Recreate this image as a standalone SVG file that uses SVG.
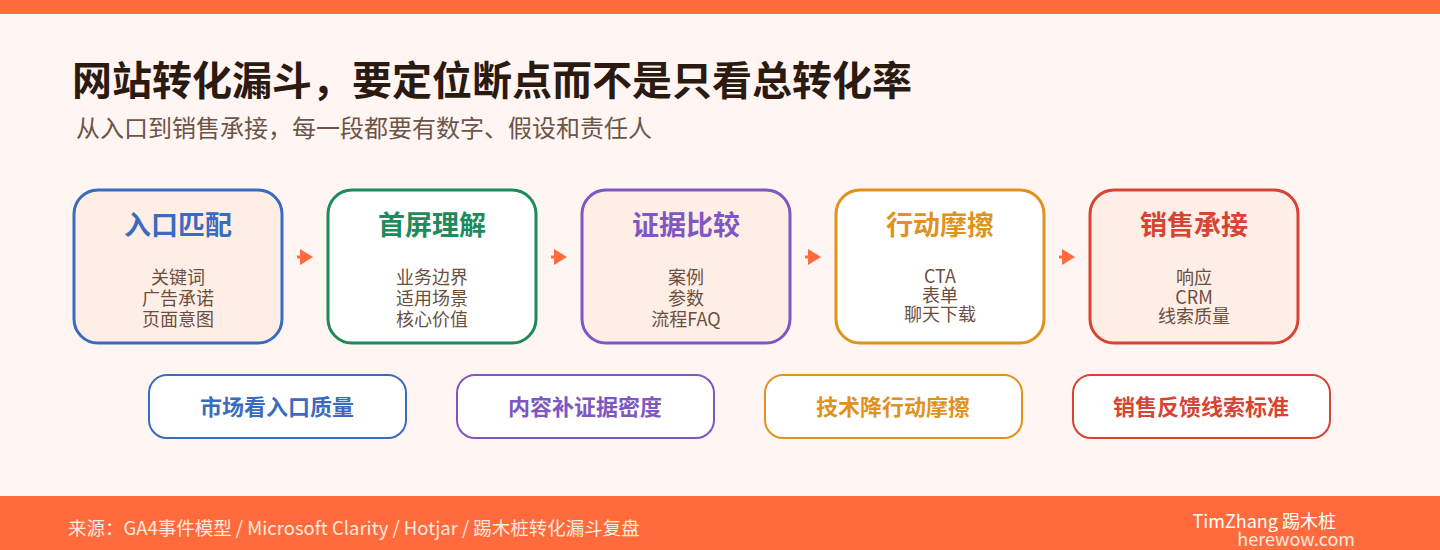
<svg xmlns="http://www.w3.org/2000/svg" width="1440" height="550" viewBox="0 0 1440 550">
<style>
text{font-family:"Noto Sans CJK SC","Noto Sans",sans-serif}
.title{font-size:40px;font-weight:700;fill:#2B1A10}
.sub{font-size:24px;fill:#6B5448}
.box{stroke-width:3}
.ht{font-size:27px;font-weight:700;text-anchor:middle}
.it{font-size:18px;fill:#6B4F40;text-anchor:middle}
.pill{stroke-width:2;fill:#FFFFFF}
.pt{font-size:22px;font-weight:700;text-anchor:middle}
.foot{font-size:18.5px;fill:#FFE8DE}
.conn{stroke:#FF6B3D;stroke-width:3}
</style>
<defs>
<marker id="ah" markerWidth="13" markerHeight="16" refX="0" refY="8" orient="auto" markerUnits="userSpaceOnUse">
<path d="M0,0 L13,8 L0,16 Z" fill="#FF6B3D"/>
</marker>
</defs>
<rect width="1440" height="550" fill="#FFF5F2"/>
<rect width="1440" height="14" fill="#FF6B3D"/>
<rect y="496" width="1440" height="54" fill="#FF6B3D"/>
<text class="title" x="72" y="95">网站转化漏斗，要定位断点而不是只看总转化率</text>
<text class="sub" x="76" y="137">从入口到销售承接，每一段都要有数字、假设和责任人</text>

<g id="connectors">
<line class="conn" x1="297" y1="257" x2="300" y2="257" marker-end="url(#ah)"/>
<line class="conn" x1="551" y1="257" x2="554" y2="257" marker-end="url(#ah)"/>
<line class="conn" x1="805" y1="257" x2="808" y2="257" marker-end="url(#ah)"/>
<line class="conn" x1="1059" y1="257" x2="1062" y2="257" marker-end="url(#ah)"/>
</g>

<g id="n1">
<rect class="box" x="74" y="190" width="208" height="153" rx="24" fill="#FFEEE6" stroke="#3A6BBF"/>
<text class="ht" x="178" y="235" fill="#3A6BBF">入口匹配</text>
<text class="it" x="178" y="284">关键词</text>
<text class="it" x="178" y="305">广告承诺</text>
<text class="it" x="178" y="326">页面意图</text>
</g>
<g id="n2">
<rect class="box" x="328" y="190" width="208" height="153" rx="24" fill="#FFFFFF" stroke="#1F8A5B"/>
<text class="ht" x="432" y="235" fill="#1F8A5B">首屏理解</text>
<text class="it" x="432" y="284">业务边界</text>
<text class="it" x="432" y="305">适用场景</text>
<text class="it" x="432" y="326">核心价值</text>
</g>
<g id="n3">
<rect class="box" x="582" y="190" width="208" height="153" rx="24" fill="#FFEEE6" stroke="#7E57C2"/>
<text class="ht" x="686" y="235" fill="#7E57C2">证据比较</text>
<text class="it" x="686" y="284">案例</text>
<text class="it" x="686" y="305">参数</text>
<text class="it" x="686" y="326">流程FAQ</text>
</g>
<g id="n4">
<rect class="box" x="836" y="190" width="208" height="153" rx="24" fill="#FFFFFF" stroke="#E0921F"/>
<text class="ht" x="940" y="235" fill="#E0921F">行动摩擦</text>
<text class="it" x="940" y="283">CTA</text>
<text class="it" x="940" y="302">表单</text>
<text class="it" x="940" y="321">聊天下载</text>
</g>
<g id="n5">
<rect class="box" x="1090" y="190" width="208" height="153" rx="24" fill="#FFEEE6" stroke="#D64534"/>
<text class="ht" x="1194" y="235" fill="#D64534">销售承接</text>
<text class="it" x="1194" y="284">响应</text>
<text class="it" x="1194" y="304">CRM</text>
<text class="it" x="1194" y="323">线索质量</text>
</g>

<g id="p1">
<rect class="pill" x="149" y="375" width="257" height="63" rx="18" stroke="#3A6BBF"/>
<text class="pt" x="277" y="415" fill="#3A6BBF">市场看入口质量</text>
</g>
<g id="p2">
<rect class="pill" x="457" y="375" width="257" height="63" rx="18" stroke="#7E57C2"/>
<text class="pt" x="585" y="415" fill="#7E57C2">内容补证据密度</text>
</g>
<g id="p3">
<rect class="pill" x="765" y="375" width="257" height="63" rx="18" stroke="#E0921F"/>
<text class="pt" x="893" y="415" fill="#E0921F">技术降行动摩擦</text>
</g>
<g id="p4">
<rect class="pill" x="1073" y="375" width="257" height="63" rx="18" stroke="#D64534"/>
<text class="pt" x="1201" y="415" fill="#D64534">销售反馈线索标准</text>
</g>

<text class="foot" x="68" y="535">来源：GA4事件模型 / Microsoft Clarity / Hotjar / 踢木桩转化漏斗复盘</text>
<text class="foot" x="1336" y="528" text-anchor="end" style="font-size:18px;fill:#FFFFFF">TimZhang 踢木桩</text>
<text class="foot" x="1355" y="546" text-anchor="end" style="font-size:18px">herewow.com</text>
</svg>
